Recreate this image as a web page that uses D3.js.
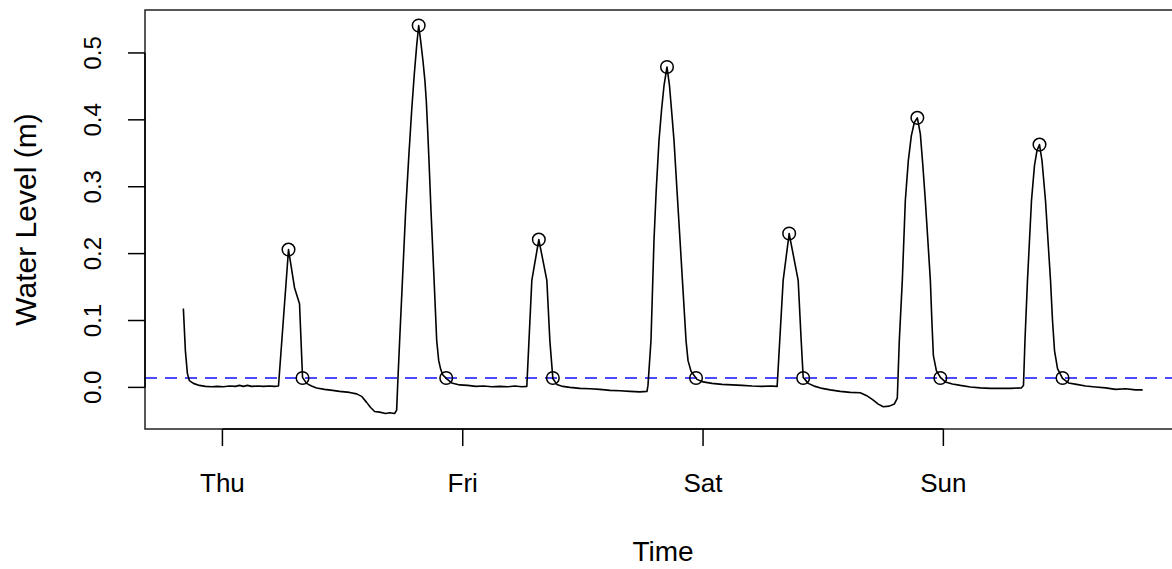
<!DOCTYPE html>
<html>
<head>
<meta charset="utf-8">
<script src="https://cdn.jsdelivr.net/npm/d3@7"></script>
<style>
  body { margin: 0; background: #fff; }
  svg { display: block; font-family: "Liberation Sans", Arial, Helvetica, sans-serif; }
</style>
</head>
<body>
<div id="chart"></div>
<script>
// hours after Thu 00:00 and water level (m)
const hours = [
  -3.9, -3.7, -3.5, -3.3, -2.9, -2.3, -1.7, -1.1, -0.5, 0.1, 0.7, 1.3, 1.7, 2.1, 2.5, 2.9, 3.5, 4.1, 4.7, 5.2, 5.6,
  6.6, 7.2, 7.7, 8.0, 8.4, 8.9, 9.4, 10.2, 11.0, 11.7, 12.7, 13.4, 13.9, 14.4, 14.8, 15.2, 15.7, 16.3, 16.7, 17.2, 17.4,
  17.5, 17.7, 18.0, 18.3, 18.6, 18.9, 19.15, 19.4, 19.6, 19.8, 20.03, 20.22, 20.36, 20.5, 20.63, 20.83, 21.12, 21.4,
  21.6, 21.8, 22.0, 22.4, 22.9, 23.7, 24.5, 25.3, 26.1, 26.9, 27.7, 28.5, 29.2, 29.9, 30.4, 30.9, 31.6, 32.4, 32.7,
  33.0, 33.4, 34.0, 34.7, 35.7, 36.7, 37.7, 38.7, 39.7, 40.7, 41.7, 42.4,
  42.5, 42.8, 42.95, 43.1, 43.32, 43.6, 43.85, 44.1, 44.4, 44.65, 44.9, 45.1, 45.4, 45.7, 46.0, 46.3, 46.5, 46.8,
  47.4, 48.0, 48.9, 49.9, 50.9, 51.9, 52.9, 53.9, 54.7, 55.4, 56.0, 56.6, 57.5, 57.8, 58.0, 58.5, 59.2, 59.9,
  60.7, 61.7, 62.7, 63.7, 64.3, 64.9, 65.5, 66.0, 66.6, 67.1, 67.4,
  67.6, 67.9, 68.2, 68.5, 68.8, 69.1, 69.4, 69.7, 69.95, 70.2, 70.45, 70.7, 70.85, 71.0, 71.3, 71.7,
  72.2, 72.9, 73.7, 74.7, 75.7, 76.7, 77.7, 78.7, 79.8,
  80.0, 80.15, 80.4, 80.8, 81.1, 81.35, 81.6, 81.85, 82.2, 82.7, 82.9, 83.1, 83.4, 83.9,
  84.5, 85.3, 86.2, 87.2, 88.2, 89.2, 90.2, 91.2, 91.9
];
const level = [
  0.118, 0.055, 0.021, 0.010, 0.006, 0.003, 0.0015, 0.001, 0.0015, 0.001, 0.002, 0.0015, 0.003, 0.0015, 0.003, 0.0015, 0.002, 0.0015, 0.002, 0.0015, 0.002,
  0.206, 0.149, 0.125, 0.015, 0.006, 0.002, -0.001, -0.003, -0.0045, -0.006, -0.0075, -0.0097, -0.0134, -0.0224, -0.030, -0.036, -0.037, -0.039, -0.038, -0.039, -0.034,
  0.003, 0.070, 0.167, 0.264, 0.342, 0.414, 0.466, 0.511, 0.541, 0.518, 0.488, 0.459, 0.429, 0.384, 0.339, 0.264, 0.167, 0.070,
  0.040, 0.027, 0.019, 0.0127, 0.0067, 0.0037, 0.003, 0.0015, 0.002, 0.001, 0.0015, 0.001, 0.002, 0.001, 0.0015, 0.160, 0.221, 0.160, 0.070,
  0.0134, 0.0045, 0.0015, 0.0, -0.0015, -0.002, -0.003, -0.0045, -0.005, -0.006, -0.0067, -0.006,
  0.003, 0.070, 0.145, 0.220, 0.294, 0.369, 0.414, 0.451, 0.479, 0.451, 0.406, 0.369, 0.294, 0.220, 0.145, 0.070, 0.040, 0.024,
  0.012, 0.0082, 0.006, 0.0045, 0.0037, 0.003, 0.002, 0.0015, 0.002, 0.0015, 0.160, 0.230, 0.160, 0.070, 0.015, 0.006, 0.0015, -0.0015,
  -0.0037, -0.006, -0.0075, -0.008, -0.012, -0.018, -0.025, -0.029, -0.028, -0.025, -0.016,
  0.070, 0.160, 0.279, 0.339, 0.376, 0.396, 0.403, 0.379, 0.332, 0.279, 0.220, 0.160, 0.100, 0.048, 0.025, 0.015,
  0.0082, 0.0052, 0.003, 0.0007, -0.0007, -0.0015, -0.0015, -0.0015, -0.0007,
  0.003, 0.070, 0.160, 0.279, 0.332, 0.354, 0.363, 0.339, 0.279, 0.160, 0.100, 0.055, 0.028, 0.0134,
  0.0067, 0.0045, 0.002, 0.0007, -0.0007, -0.003, -0.002, -0.0037, -0.0037
];

// event peaks and event ends (circled points)
const peakHours = [6.6, 19.6, 31.6, 44.4, 56.6, 69.4, 81.6];
const peakLevels = [0.206, 0.541, 0.221, 0.479, 0.230, 0.403, 0.363];
const endHours = [8.0, 22.35, 33.0, 47.3, 58.0, 71.7, 83.9];
const endLevels = [0.014, 0.014, 0.014, 0.014, 0.014, 0.014, 0.014];

const threshold = 0.014;
const yTicks = [0, 0.1, 0.2, 0.3, 0.4, 0.5];

const width = 1172;
const height = 569;
const mLeft = 145, mRight = 1181, mTop = 10, mBottom = 429;

const base = Date.UTC(2024, 0, 4); // a Thursday
const toDate = h => new Date(base + h * 3600e3);

const data = hours.map((h, i) => ({ t: toDate(h), v: level[i] }));

// R-style 4% padding
function padded(ext) {
  const d = (ext[1] - ext[0]) * 0.04;
  return [ext[0] - d, ext[1] + d];
}
const hx = padded(d3.extent(hours));
const vy = padded(d3.extent(level));

const x = d3.scaleUtc().domain([toDate(hx[0]), toDate(hx[1])]).range([mLeft, mRight]);
const y = d3.scaleLinear().domain(vy).range([mBottom, mTop]);

const svg = d3.select("#chart")
  .append("svg")
  .attr("width", width)
  .attr("height", height);

// threshold
svg.append("line")
  .attr("x1", mLeft).attr("x2", mRight)
  .attr("y1", y(threshold)).attr("y2", y(threshold))
  .attr("stroke", "#4a4aff")
  .attr("stroke-width", 2)
  .attr("stroke-dasharray", "12,8");

const line = d3.line()
  .x(d => x(d.t))
  .y(d => y(d.v));

svg.append("path")
  .datum(data)
  .attr("fill", "none")
  .attr("stroke", "#000")
  .attr("stroke-width", 1.6)
  .attr("stroke-linejoin", "round")
  .attr("d", line);

const circles = peakHours.map((h, i) => ({ t: toDate(h), v: peakLevels[i] }))
  .concat(endHours.map((h, i) => ({ t: toDate(h), v: endLevels[i] })));

svg.append("g")
  .selectAll("circle")
  .data(circles)
  .join("circle")
  .attr("cx", d => x(d.t))
  .attr("cy", d => y(d.v))
  .attr("r", 6.3)
  .attr("fill", "none")
  .attr("stroke", "#000")
  .attr("stroke-width", 1.5);

// box
svg.append("rect")
  .attr("x", mLeft).attr("y", mTop)
  .attr("width", mRight - mLeft).attr("height", mBottom - mTop)
  .attr("fill", "none")
  .attr("stroke", "#222")
  .attr("stroke-width", 1.5);

// x axis (R style)
const days = x.ticks(d3.utcDay.every(1));
const xAxis = svg.append("g").attr("transform", `translate(0,${mBottom})`);
xAxis.append("line")
  .attr("x1", x(days[0])).attr("x2", x(days[days.length - 1]))
  .attr("stroke", "#000").attr("stroke-width", 1.5);
xAxis.selectAll(".tk")
  .data(days)
  .join("line")
  .attr("x1", d => x(d)).attr("x2", d => x(d))
  .attr("y1", 0).attr("y2", 17)
  .attr("stroke", "#000").attr("stroke-width", 1.5);
xAxis.selectAll("text")
  .data(days)
  .join("text")
  .attr("x", d => x(d))
  .attr("y", 63)
  .attr("text-anchor", "middle")
  .style("font-size", "26px")
  .text(d3.utcFormat("%a"));

// y axis
const yAxis = svg.append("g").attr("transform", `translate(${mLeft},0)`);
yAxis.append("line")
  .attr("y1", y(yTicks[0])).attr("y2", y(yTicks[yTicks.length - 1]))
  .attr("stroke", "#000").attr("stroke-width", 1.5);
yAxis.selectAll(".tk")
  .data(yTicks)
  .join("line")
  .attr("x1", 0).attr("x2", -17)
  .attr("y1", d => y(d)).attr("y2", d => y(d))
  .attr("stroke", "#000").attr("stroke-width", 1.5);
yAxis.selectAll("text")
  .data(yTicks)
  .join("text")
  .attr("transform", d => `translate(-44,${y(d)}) rotate(-90)`)
  .attr("text-anchor", "middle")
  .style("font-size", "24px")
  .text(d3.format(".1f"));

// axis titles
svg.append("text")
  .attr("x", (mLeft + mRight) / 2)
  .attr("y", 561)
  .attr("text-anchor", "middle")
  .style("font-size", "28px")
  .text("Time");

svg.append("text")
  .attr("transform", `translate(36,${(mTop + mBottom) / 2}) rotate(-90)`)
  .attr("text-anchor", "middle")
  .style("font-size", "30px")
  .text("Water Level (m)");
</script>
</body>
</html>
